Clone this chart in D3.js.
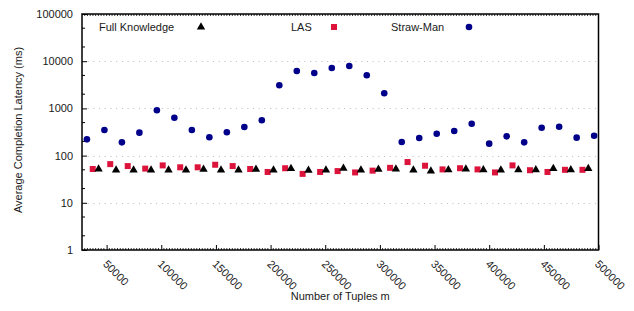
<!DOCTYPE html>
<html><head><meta charset="utf-8">
<script src="https://cdn.jsdelivr.net/npm/d3@7"></script>
<style>
html,body{margin:0;padding:0;background:#fff;}
svg{display:block;font-family:"Liberation Sans",Arial,sans-serif;}
</style></head>
<body><svg id="c" width="634" height="311"></svg>
<script>
// ---- data ----
const tuples = [32000,48000,64000,80000,96000,112000,128000,144000,160000,176000,
  192000,208000,224000,240000,256000,272000,288000,304000,320000,336000,
  352000,368000,384000,400000,416000,432000,448000,464000,480000,496000];
const strawMan = [221,349,191,306,912,635,349,244,312,404,
  559,3085,6200,5620,7180,7910,5025,2090,194,236,
  291,332,474,179,256,191,390,410,240,264];
const las = [52,66,60,53,62,56.5,56.5,64,60,52,
  45,54,41,45,47,44,48,55,73,61,
  51,54,51,44,62,49,45,50,50];
const fullKnowledge = [52,49.5,49.5,49.5,49.5,49.5,51,49.5,49.5,51,
  49.5,53,49,49.5,54,49.5,51,52,49.5,47,
  50,52,50,49.5,50,50,53,50,53];
const xTicks = [50000,100000,150000,200000,250000,300000,350000,400000,450000,500000];
const yTicks = [1,10,100,1000,10000,100000];
const seriesNames = ["Full Knowledge","LAS","Straw-Man"];
const step = 16000;

// ---- layout ----
const svg = d3.select("#c");
const L=82, R=598.5, T=14, B=250;
const x = d3.scaleLinear().domain([27500,500000]).range([L,R]);
const y = d3.scaleLog().domain([1,100000]).range([B,T]);

svg.append("defs").append("clipPath").attr("id","clip")
  .append("rect").attr("x",L).attr("y",T).attr("width",R-L).attr("height",B-T);

// grid
svg.append("g").selectAll("line").data(yTicks.filter(v=>v>1&&v<100000)).join("line")
  .attr("x1",L).attr("x2",R).attr("y1",d=>Math.round(y(d))+0.5).attr("y2",d=>Math.round(y(d))+0.5)
  .attr("stroke","#bbb").attr("stroke-width",1).attr("stroke-dasharray","1,4.7");

// y axis: major ticks inside
const yAx = d3.axisLeft(y).tickValues(yTicks).tickFormat(d3.format("d")).tickSizeInner(-5).tickSizeOuter(0).tickPadding(9);
const gy = svg.append("g").attr("transform",`translate(${L},0)`).call(yAx);
gy.select(".domain").remove();
gy.selectAll("line").attr("stroke","#000").attr("stroke-width",1);
gy.selectAll("text").attr("font-size",11).attr("fill","#1a1a1a").attr("font-family","Liberation Sans, Arial, sans-serif");
// minor y ticks (2 and 5)
const minorY = [];
yTicks.slice(0,-1).forEach(v=>{minorY.push(v*2,v*5);});
svg.append("g").selectAll("line").data(minorY).join("line")
  .attr("x1",L).attr("x2",L+3).attr("y1",d=>y(d)).attr("y2",d=>y(d))
  .attr("stroke","#000").attr("stroke-width",1);

// x axis
const xAx = d3.axisBottom(x).tickValues(xTicks).tickFormat(d3.format("d")).tickSizeInner(-5).tickSizeOuter(0);
const gx = svg.append("g").attr("transform",`translate(0,${B})`).call(xAx);
gx.select(".domain").remove();
gx.selectAll("line").attr("stroke","#000").attr("stroke-width",1);
gx.selectAll("text").attr("font-size",11).attr("fill","#1a1a1a")
  .attr("font-family","Liberation Sans, Arial, sans-serif")
  .attr("text-anchor","start").attr("dy",null)
  .attr("transform","translate(1,9) rotate(45)").attr("y",0).attr("x",0).attr("dominant-baseline","hanging");
// minor x ticks on bottom and top
const minorX = d3.range(30000,500001,2500).filter(v=>v%50000!==0);
svg.append("g").selectAll("line").data(minorX).join("line")
  .attr("x1",d=>x(d)).attr("x2",d=>x(d)).attr("y1",B).attr("y2",B-2)
  .attr("stroke","#000").attr("stroke-width",0.8);
svg.append("g").selectAll("line").data(minorX.concat(xTicks)).join("line")
  .attr("x1",d=>x(d)).attr("x2",d=>x(d)).attr("y1",T).attr("y2",T+2)
  .attr("stroke","#000").attr("stroke-width",0.8);

// border
svg.append("rect").attr("x",L).attr("y",T).attr("width",R-L).attr("height",B-T)
  .attr("fill","none").attr("stroke","#000").attr("stroke-width",1.5);

// axis titles
svg.append("text").attr("x",(L+R)/2).attr("y",300).attr("text-anchor","middle")
  .attr("font-size",11).attr("fill","#1a1a1a").text("Number of Tuples m");
svg.append("text").attr("transform",`translate(22,${(T+B)/2-2}) rotate(-90)`).attr("text-anchor","middle")
  .attr("font-size",11).attr("fill","#1a1a1a").text("Average Completion Latency (ms)");

// marks
const plot = svg.append("g").attr("clip-path","url(#clip)");
const tri = d3.symbol().type(d3.symbolTriangle).size(30);
plot.append("g").selectAll("circle").data(strawMan).join("circle")
  .attr("cx",(d,i)=>x(tuples[i])).attr("cy",d=>y(d)).attr("r",3.3).attr("fill","#00008b");
plot.append("g").selectAll("rect").data(las).join("rect")
  .attr("x",(d,i)=>x(tuples[i]+step/3)-3).attr("y",d=>y(d)-3).attr("width",6).attr("height",6).attr("fill","#dc143c");
plot.append("g").selectAll("path").data(fullKnowledge).join("path")
  .attr("d",tri).attr("transform",(d,i)=>`translate(${x(tuples[i]+2*step/3)},${y(d)})`).attr("fill","#000");

// legend
const lg = svg.append("g").attr("font-size",11).attr("fill","#1a1a1a");
const legendItems = [
  {name:seriesNames[0], tx:99, mx:201, type:"tri"},
  {name:seriesNames[1], tx:291, mx:334, type:"sq"},
  {name:seriesNames[2], tx:391, mx:469, type:"circ"}];
legendItems.forEach(it=>{
  lg.append("text").attr("x",it.tx).attr("y",31).text(it.name);
  if(it.type==="tri") lg.append("path").attr("d",tri).attr("transform",`translate(${it.mx},27)`).attr("fill","#000");
  if(it.type==="sq") lg.append("rect").attr("x",it.mx-3).attr("y",24).attr("width",6).attr("height",6).attr("fill","#dc143c");
  if(it.type==="circ") lg.append("circle").attr("cx",it.mx).attr("cy",27).attr("r",3.3).attr("fill","#00008b");
});
</script></body></html>
